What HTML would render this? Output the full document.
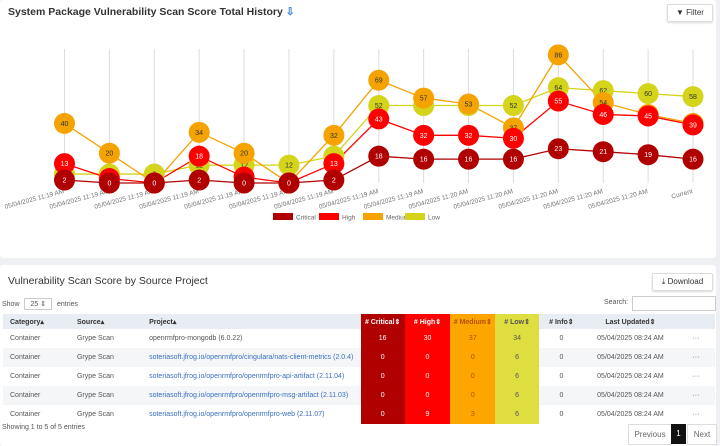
<!DOCTYPE html>
<html><head><meta charset="utf-8"><style>
body{margin:0;width:720px;height:446px;background:#eef0f3;font-family:"Liberation Sans",sans-serif;overflow:hidden;position:relative;color:#333}
.card{position:absolute;left:0;width:716px;background:#fff;border-radius:3px}
.btn{position:absolute;border:1px solid #ddd;background:#fff;border-radius:2px;font-size:8px;color:#333;text-align:center;box-shadow:0 1px 2px rgba(0,0,0,.15)}
table{border-collapse:collapse;position:absolute;left:3px;top:314px;width:712px;font-size:7px;color:#555}
td,th{height:19px;padding:0 0 0 7px;text-align:left;white-space:nowrap}
th{height:15px;background:#e8edf4;color:#333;font-weight:bold}
tr.r:nth-child(odd) td{background:#f5f6f8}
td.c{text-align:center;padding:0}
.crit{background:#b00000!important;color:#fff;text-align:center;padding:0}
.high{background:#ff0000!important;color:#fff;text-align:center;padding:0}
.med{background:#ffa500!important;color:#b05000;text-align:center;padding:0}
.low{background:#dede40!important;color:#555;text-align:center;padding:0}
a{color:#3a6fc0;text-decoration:none}
</style></head><body>
<div class="card" style="top:0;height:258px"></div>
<div style="position:absolute;left:8px;top:6px;font-size:10.5px;font-weight:bold;color:#333">System Package Vulnerability Scan Score Total History <span style="color:#3a80d0">⇩</span></div>
<div class="btn" style="left:667px;top:4px;width:44px;height:16px;line-height:16px">▼ Filter</div>
<svg id="chart" width="720" height="240" style="position:absolute;left:0;top:0"></svg>
<div class="card" style="top:265px;height:181px"></div>
<div style="position:absolute;left:8px;top:275px;font-size:10.5px;color:#333">Vulnerability Scan Score by Source Project</div>
<div class="btn" style="left:652px;top:273px;width:59px;height:16px;line-height:16px">⤓ Download</div>
<div style="position:absolute;left:2px;top:298px;font-size:7px;color:#555">Show <span style="display:inline-block;border:1px solid #ccc;padding:1px 5px;margin:0 3px">25 ⇕</span> entries</div>
<div style="position:absolute;left:604px;top:299px;font-size:7px;color:#555">Search:</div>
<div style="position:absolute;left:632px;top:296px;width:82px;height:13px;border:1px solid #ccc;background:#fff"></div>
<table>
<tr><th style="width:58px">Category▴</th><th style="width:63px">Source▴</th><th style="width:205px">Project▴</th><th class="crit" style="width:43px"># Critical⇕</th><th class="high" style="width:44px"># High⇕</th><th class="med" style="width:44px"># Medium⇕</th><th class="low" style="width:42px"># Low⇕</th><th style="text-align:center;padding:0;width:44px"># Info⇕</th><th style="text-align:center;padding:0;width:90px">Last Updated⇕</th><th style="width:30px"></th></tr>
<tr class="r"><td>Container</td><td>Grype Scan</td><td>openrmfpro-mongodb (6.0.22)</td><td class="crit">16</td><td class="high">30</td><td class="med">37</td><td class="low">34</td><td class="c">0</td><td class="c">05/04/2025 08:24 AM</td><td class="c">···</td></tr>
<tr class="r"><td>Container</td><td>Grype Scan</td><td><a>soteriasoft.jfrog.io/openrmfpro/cingulara/nats-client-metrics (2.0.4)</a></td><td class="crit">0</td><td class="high">0</td><td class="med">0</td><td class="low">6</td><td class="c">0</td><td class="c">05/04/2025 08:24 AM</td><td class="c">···</td></tr>
<tr class="r"><td>Container</td><td>Grype Scan</td><td><a>soteriasoft.jfrog.io/openrmfpro/openrmfpro-api-artifact (2.11.04)</a></td><td class="crit">0</td><td class="high">0</td><td class="med">0</td><td class="low">6</td><td class="c">0</td><td class="c">05/04/2025 08:24 AM</td><td class="c">···</td></tr>
<tr class="r"><td>Container</td><td>Grype Scan</td><td><a>soteriasoft.jfrog.io/openrmfpro/openrmfpro-msg-artifact (2.11.03)</a></td><td class="crit">0</td><td class="high">0</td><td class="med">0</td><td class="low">6</td><td class="c">0</td><td class="c">05/04/2025 08:24 AM</td><td class="c">···</td></tr>
<tr class="r"><td>Container</td><td>Grype Scan</td><td><a>soteriasoft.jfrog.io/openrmfpro/openrmfpro-web (2.11.07)</a></td><td class="crit">0</td><td class="high">9</td><td class="med">3</td><td class="low">6</td><td class="c">0</td><td class="c">05/04/2025 08:24 AM</td><td class="c">···</td></tr>
</table>
<div style="position:absolute;left:2px;top:424px;font-size:7px;color:#555">Showing 1 to 5 of 5 entries</div>
<div style="position:absolute;left:628px;top:424px;width:42px;height:19px;line-height:19px;font-size:8px;color:#666;border:1px solid #ddd;background:#fff;text-align:center">Previous</div>
<div style="position:absolute;left:671px;top:424px;width:15px;height:20px;line-height:20px;font-size:8px;color:#fff;background:#111;text-align:center">1</div>
<div style="position:absolute;left:687px;top:424px;width:28px;height:19px;line-height:19px;font-size:8px;color:#666;border:1px solid #ddd;background:#fff;text-align:center">Next</div>
<script>
const categories=["05/04/2025 11:19 AM","05/04/2025 11:19 AM","05/04/2025 11:19 AM","05/04/2025 11:19 AM","05/04/2025 11:19 AM","05/04/2025 11:19 AM","05/04/2025 11:19 AM","05/04/2025 11:19 AM","05/04/2025 11:19 AM","05/04/2025 11:20 AM","05/04/2025 11:20 AM","05/04/2025 11:20 AM","05/04/2025 11:20 AM","05/04/2025 11:20 AM","Current"];
const critical=[2,0,0,2,0,0,2,18,16,16,16,23,21,19,16];
const high=[13,3,0,18,4,0,13,43,32,32,30,55,46,45,39];
const medium=[40,20,0,34,20,0,32,69,57,53,37,86,54,46,40];
const low=[6,6,6,12,12,12,18,52,52,52,52,64,62,60,58];
const seriesNames=["Critical","High","Medium","Low"];
const NS="http://www.w3.org/2000/svg";
const svg=document.getElementById('chart');
const x0=64.5,x1=693,y0=183,yPerUnit=1.49;
const xS=i=>x0+(x1-x0)*i/(categories.length-1);
const yS=v=>y0-v*yPerUnit;
function mk(t,a,p){const e=document.createElementNS(NS,t);for(const k in a)e.setAttribute(k,a[k]);(p||svg).appendChild(e);return e;}
categories.forEach((c,i)=>{
  const g=mk('line',{x1:xS(i),x2:xS(i),y1:49,y2:y0,stroke:'#ddd','stroke-width':1});
  
  
  const t=mk('text',{x:xS(i),y:y0+10,'text-anchor':'end','font-size':6.5,fill:'#777',transform:`rotate(-15 ${xS(i)} ${y0+10})`});
  t.textContent=c;
  
  
});
const series=[[low,'#d4d41a','#333'],[medium,'#f5a300','#333'],[high,'#ff0000','#fff'],[critical,'#b00000','#fff']];
const keys=['low','medium','high','critical'];
series.forEach(([d,col,tc],si)=>{
  const pl=mk('polyline',{points:d.map((v,i)=>xS(i)+','+yS(v)).join(' '),fill:'none',stroke:col,'stroke-width':1.3});
  
  
});
series.forEach(([d,col,tc],si)=>{
  d.forEach((v,i)=>{
    const c=mk('circle',{cx:xS(i),cy:yS(v),r:10.5,fill:col});
    
    
    const t=mk('text',{x:xS(i),y:yS(v)+2.5,'text-anchor':'middle','font-size':7,fill:tc});
    t.textContent=v;
    
    
  });
});
const legCols=['#b00000','#ff0000','#f5a300','#d4d41a'];
const legX=[273,319,363,405];
seriesNames.forEach((n,i)=>{
  const r=mk('rect',{x:legX[i],y:213,width:20,height:7,fill:legCols[i]});
  
  
  const t=mk('text',{x:legX[i]+23,y:219.5,'font-size':6.5,fill:'#666'});
  t.textContent=n;
  
  
});
</script>
</body></html>
